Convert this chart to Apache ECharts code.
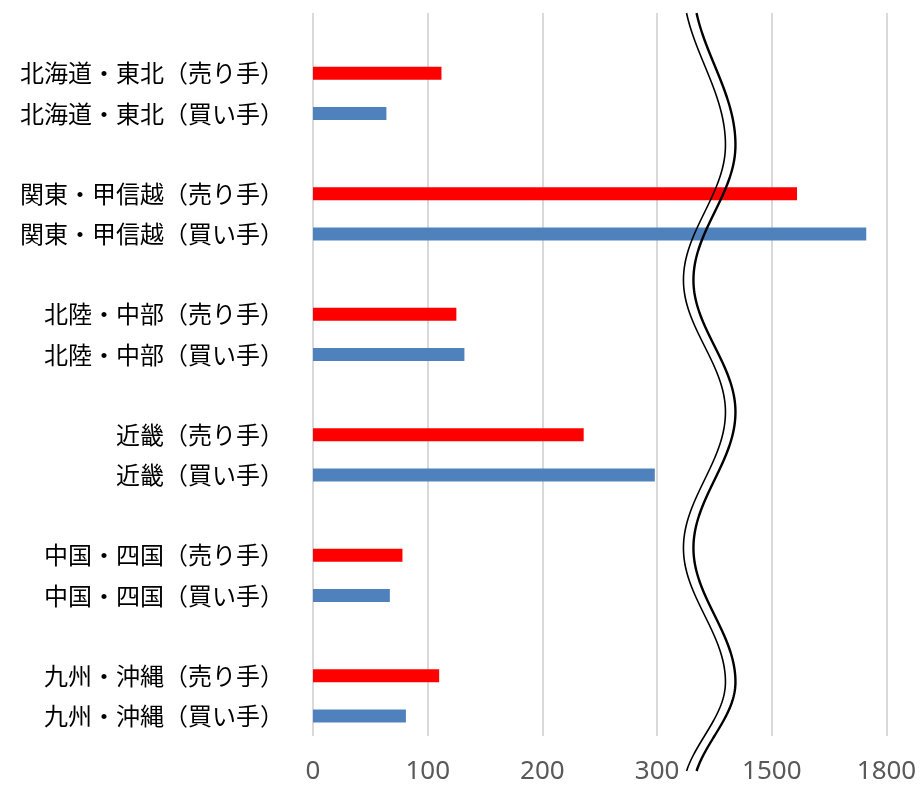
<!DOCTYPE html>
<html>
<head>
<meta charset="utf-8">
<script src="https://cdn.jsdelivr.net/npm/echarts@6/dist/echarts.min.js"></script>
<style>
  html, body { margin: 0; padding: 0; background: #fff; }
  #chart { width: 922px; height: 787px; }
</style>
</head>
<body>
<div id="chart"></div>
<script>
// Regions, top to bottom
const regions = ['北海道・東北', '関東・甲信越', '北陸・中部', '近畿', '中国・四国', '九州・沖縄'];
// Seller / buyer counts per region
const sellerValues = [112, 1566, 125, 236, 78, 110];
const buyerValues = [64, 1747, 132, 298, 67, 81];
// Tick labels of the broken value axis (one label per evenly spaced tick)
const tickLabels = [0, 100, 200, 300, 1500, 1800];
const sellerSuffix = '（売り手）';
const buyerSuffix = '（買い手）';

const SELL_COLOR = '#ff0000';
const BUY_COLOR = '#4f81bd';
const TICK_STEP = 100;

// Broken scale: each tick gap is one equal step on the axis; a value is placed
// linearly inside the gap between the two tick labels that surround it.
function toAxis(v) {
  for (let i = 0; i < tickLabels.length - 1; i++) {
    const a = tickLabels[i], b = tickLabels[i + 1];
    if (v <= b || i === tickLabels.length - 2) {
      return (i + (v - a) / (b - a)) * TICK_STEP;
    }
  }
  return 0;
}

// One empty row before each region pair
const categories = [];
const barData = [];
regions.forEach((r, i) => {
  categories.push('');
  barData.push('-');
  categories.push(r + sellerSuffix);
  barData.push({ value: toAxis(sellerValues[i]), itemStyle: { color: SELL_COLOR } });
  categories.push(r + buyerSuffix);
  barData.push({ value: toAxis(buyerValues[i]), itemStyle: { color: BUY_COLOR } });
});

const chart = echarts.init(document.getElementById('chart'), null, { renderer: 'canvas' });

chart.setOption({
  animation: false,
  backgroundColor: '#ffffff',
  grid: { left: 313, right: 35.5, top: 13, bottom: 51, containLabel: false },
  xAxis: {
    type: 'value',
    min: 0,
    max: (tickLabels.length - 1) * TICK_STEP,
    interval: TICK_STEP,
    axisLine: { show: false },
    axisTick: { show: false },
    splitLine: { show: true, lineStyle: { color: '#d9d9d9', width: 2 } },
    axisLabel: {
      color: '#595959',
      fontSize: 26,
      fontFamily: 'Noto Sans',
      margin: 23,
      formatter: v => String(tickLabels[Math.round(v / TICK_STEP)])
    }
  },
  yAxis: {
    type: 'category',
    inverse: true,
    data: categories,
    axisLine: { show: false },
    axisTick: { show: false },
    splitLine: { show: false },
    axisLabel: {
      color: '#000000',
      fontSize: 24,
      fontFamily: 'Noto Sans CJK JP',
      margin: 29,
      interval: 0
    }
  },
  series: [{
    type: 'bar',
    data: barData,
    barWidth: 13,
    silent: true
  }]
});

// Double wavy line marking the break between 300 and 1500.
// Swing turning points (y, side) with a smooth half-cosine between them.
function drawBreak() {
  const cx = chart.convertToPixel({ xAxisIndex: 0 }, 3.5 * TICK_STEP);
  const amp = 21;
  const turns = [[-15, -1], [145, 1], [280, -1], [412, 1], [548, -1], [682, 1], [790, -1]];
  const yTop = 13, yBottom = 772;
  const left = [], right = [];
  for (let y = yTop; y <= yBottom; y += 2) {
    let k = 0;
    while (k < turns.length - 2 && y > turns[k + 1][0]) k++;
    const [y0, s0] = turns[k];
    const [y1, s1] = turns[k + 1];
    const t = (y - y0) / (y1 - y0);
    const f = (1 - Math.cos(Math.PI * t)) / 2;
    const dx = amp * (s0 + (s1 - s0) * f);
    left.push([cx - 10 + dx, y]);
    right.push([cx + dx, y]);
  }
  chart.setOption({
    graphic: [
      { type: 'polyline', z: 100, shape: { points: left }, style: { stroke: '#000', lineWidth: 1.6, fill: null } },
      { type: 'polyline', z: 100, shape: { points: right }, style: { stroke: '#000', lineWidth: 2.4, fill: null } }
    ]
  });
}
drawBreak();
</script>
</body>
</html>
